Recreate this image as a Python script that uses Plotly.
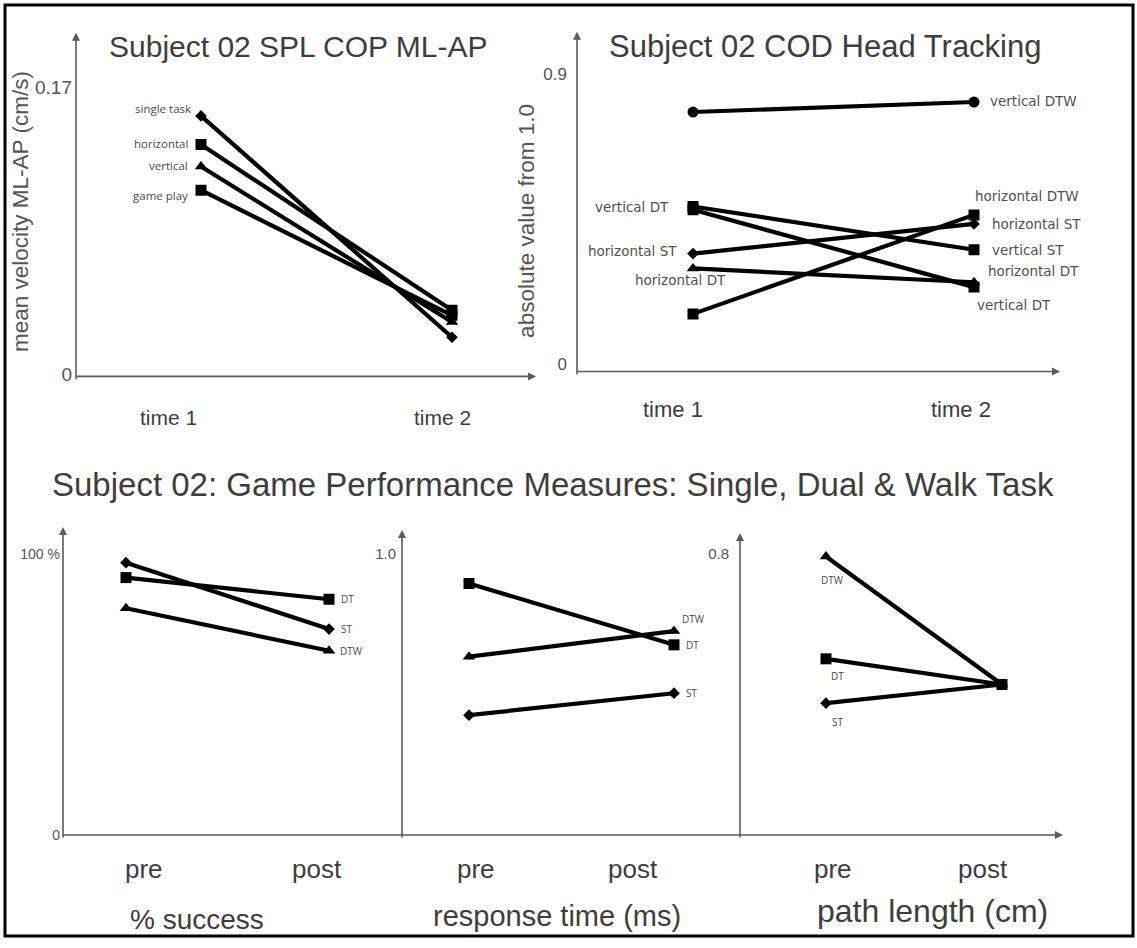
import plotly.graph_objects as go

W, H = 1137, 948

# ---------------- data ----------------
time_labels = ["time 1", "time 2"]
spl_series = ["single task", "horizontal", "vertical", "game play"]
spl_t1 = [0.153, 0.136, 0.123, 0.109]
spl_t2 = [0.022, 0.038, 0.031, 0.035]
spl_symbols = ["diamond", "square", "triangle-up", "square"]
spl_ticks = [0, 0.17]
spl_ticktext = ["0", "0.17"]

cod_series = ["vertical DTW", "vertical DT", "vertical ST", "horizontal ST", "horizontal DT", "horizontal DTW"]
cod_t1 = [0.783, 0.480, 0.490, 0.344, 0.298, 0.157]
cod_t2 = [0.814, 0.240, 0.356, 0.436, 0.255, 0.464]
cod_symbols = ["circle", "square", "square", "diamond", "triangle-up", "square"]
cod_t1_labelled = ["vertical DT", "horizontal ST", "horizontal DT"]
cod_ticks = [0, 0.9]
cod_ticktext = ["0", "0.9"]

prepost_labels = ["pre", "post"]
game_series = ["ST", "DT", "DTW"]
game_symbols = ["diamond", "square", "triangle-up"]
success_pre = [96.8, 91.5, 80.6]
success_post = [73.2, 83.8, 65.5]
response_pre = [0.426, 0.894, 0.634]
response_post = [0.504, 0.676, 0.725]
path_pre = [0.375, 0.501, 0.792]
path_post = [0.428, 0.428, 0.428]
game_measures = ["% success", "response time (ms)", "path length (cm)"]
success_ticks, success_ticktext = [0, 100], ["0", "100 %"]
response_ticks, response_ticktext = [1.0], ["1.0"]
path_ticks, path_ticktext = [0.8], ["0.8"]

titles = ["Subject 02 SPL COP ML-AP", "Subject 02 COD Head Tracking",
          "Subject 02: Game Performance Measures: Single, Dual & Walk Task"]
ytitles = ["mean velocity ML-AP (cm/s)", "absolute value from 1.0"]

# ---------------- layout helpers ----------------
def px(x):
    return x / W


def py(y):
    return 1 - y / H


def lin(p, p1, v1, p2, v2):
    return v1 + (p - p1) * (v2 - v1) / (p2 - p1)


TXT = "#3d3d3d"
AX = "#5a5a5a"
MAIN_FONT = "Liberation Sans, Arial, sans-serif"
SMALL_FONT = "Open Sans, DejaVu Sans, sans-serif"
WIDE_FONT = "DejaVu Sans, sans-serif"
msize = {"diamond": 9, "square": 11, "triangle-up": 11, "circle": 11}

fig = go.Figure()
annotations = []
layout = {}

# panel geometry: (x domain px, x calib, y domain px, y calib)
panels = [
    dict(xd=(76, 536), xc=(201, 0, 452, 1), yd=(380, 33), yc=(378, 0, 88, 0.17)),
    dict(xd=(577, 1060), xc=(693, 0, 974, 1), yd=(375, 32), yc=(368, 0, 75, 0.9)),
    dict(xd=(63, 402), xc=(126, 0, 329, 1), yd=(843, 532), yc=(843, 0, 559, 100)),
    dict(xd=(402, 740), xc=(469, 0, 674, 1), yd=(843, 535), yc=(843, 0, 559, 1.0)),
    dict(xd=(740, 1063), xc=(826, 0, 1002, 1), yd=(843, 538), yc=(843, 0, 559, 0.8)),
]
tick_sets = [(spl_ticks, spl_ticktext, 19, 3), (cod_ticks, cod_ticktext, 17, 9),
             (success_ticks, success_ticktext, 14, 2), (response_ticks, response_ticktext, 15, 5),
             (path_ticks, path_ticktext, 15, 10)]

for i, p in enumerate(panels):
    n = "" if i == 0 else str(i + 1)
    x0, x1 = p["xd"]
    yb, yt = p["yd"]
    xr = [lin(x0, *p["xc"]), lin(x1, *p["xc"])]
    yr = [lin(yb, *p["yc"]), lin(yt, *p["yc"])]
    tv, tt, tfs, stand = tick_sets[i]
    layout["xaxis" + n] = dict(domain=[px(x0), px(x1)], range=xr, anchor="y" + n,
                               showgrid=False, zeroline=False, showline=False,
                               showticklabels=False, ticks="", fixedrange=True)
    layout["yaxis" + n] = dict(domain=[py(yb), py(yt)], range=yr, anchor="x" + n,
                               showgrid=False, zeroline=False, showline=False,
                               ticks="", tickvals=tv, ticktext=tt, ticklabelstandoff=stand,
                               tickfont=dict(family=MAIN_FONT, size=tfs, color="#555555"),
                               fixedrange=True)


def arrow(hx, hy, tx, ty):
    annotations.append(dict(xref="paper", yref="paper", x=px(hx), y=py(hy),
                            ax=tx - hx, ay=ty - hy, axref="pixel", ayref="pixel",
                            showarrow=True, arrowhead=2, arrowsize=1, arrowwidth=1.6,
                            arrowcolor=AX, text=""))


# axes lines with arrowheads
arrow(76, 33, 76, 381)
arrow(536, 380, 75, 380)
arrow(577, 32, 577, 376)
arrow(1060, 375, 576, 375)
arrow(63, 532, 63, 844)
arrow(402, 535, 402, 844)
arrow(740, 538, 740, 844)
arrow(1063, 843, 62, 843)


def add_pair(xa, ya, v0, v1, sym):
    fig.add_trace(go.Scatter(x=[0, 1], y=[v0, v1], xaxis=xa, yaxis=ya, mode="lines+markers",
                             line=dict(color="black", width=4.2),
                             marker=dict(symbol=sym, size=msize[sym], color="black"),
                             showlegend=False, hoverinfo="skip"))


def label(xa, ya, x, y, text, anchor, dx, dy, size, font=SMALL_FONT, color="#4a4a4a"):
    annotations.append(dict(xref=xa, yref=ya, x=x, y=y, text=text, showarrow=False,
                            xanchor=anchor, yanchor="middle", xshift=dx, yshift=dy,
                            font=dict(family=font, size=size, color=color)))


# ---- panel 1: SPL COP ----
spl_label_shift = {"single task": (-8, 7), "horizontal": (-11, 1), "vertical": (-11, 1), "game play": (-11, -5)}
for s, a, b, sym in zip(spl_series, spl_t1, spl_t2, spl_symbols):
    add_pair("x", "y", a, b, sym)
    dx, dy = spl_label_shift[s]
    label("x", "y", 0, a, s, "right", dx, dy, 11.5)

# ---- panel 2: COD head tracking ----
cod_t1_shift = {"vertical DT": ("right", -22, 3), "horizontal ST": ("right", -14, 3),
                "horizontal DT": ("center", -13, -12)}
cod_t2_shift = {"vertical DTW": (14, 1), "vertical DT": (1, -18), "vertical ST": (16, 0),
                "horizontal ST": (16, 0), "horizontal DT": (12, 11), "horizontal DTW": (-1, 19)}
for s, a, b, sym in zip(cod_series, cod_t1, cod_t2, cod_symbols):
    add_pair("x2", "y2", a, b, sym)
    dx, dy = cod_t2_shift[s]
    label("x2", "y2", 1, b, s, "left", dx, dy, 13.5, WIDE_FONT, "#505050")
    if s in cod_t1_labelled:
        anc, dx, dy = cod_t1_shift[s]
        label("x2", "y2", 0, a, s, anc, dx, dy, 13.5, WIDE_FONT, "#505050")

# ---- bottom panels ----
game_sets = [(success_pre, success_post, "x3", "y3"),
             (response_pre, response_post, "x4", "y4"),
             (path_pre, path_post, "x5", "y5")]
post_shift = [{"ST": (10, 0), "DT": (10, 0), "DTW": (9, 0)},
              {"ST": (10, 0), "DT": (10, 0), "DTW": (6, 12)}]
pre_shift = {"ST": (11, -19), "DT": (11, -17), "DTW": (6, -23)}
for k, (pre, post, xa, ya) in enumerate(game_sets):
    for s, a, b, sym in zip(game_series, pre, post, game_symbols):
        add_pair(xa, ya, a, b, sym)
        if k < 2:
            dx, dy = post_shift[k][s]
            label(xa, ya, 1, b, s, "left", dx, dy, 10)
        else:
            dx, dy = pre_shift[s]
            label(xa, ya, 0, a, s, "center", dx, dy, 10)


def ptext(x, y, text, size, angle=0, color=TXT):
    annotations.append(dict(xref="paper", yref="paper", x=px(x), y=py(y), text=text,
                            showarrow=False, xanchor="center", yanchor="middle",
                            textangle=angle, font=dict(family=MAIN_FONT, size=size, color=color)))


# titles
ptext(298, 47, titles[0], 30)
ptext(825, 47, titles[1], 31)
ptext(553, 489, titles[2], 33)
ptext(21, 214, ytitles[0], 22.5, -90, "#555555")
ptext(527, 223, ytitles[1], 22.5, -90, "#555555")

# category labels
for lab, x in zip(time_labels, [168, 442]):
    ptext(x, 421, lab, 21)
for lab, x in zip(time_labels, [673, 961]):
    ptext(x, 413, lab, 22)
for xs in ([144, 317], [476, 633], [833, 983]):
    for lab, x in zip(prepost_labels, xs):
        ptext(x, 877, lab, 26)
for lab, x, y, fs in zip(game_measures, [197, 557, 932], [928, 925, 920], [28, 29, 32]):
    ptext(x, y, lab, fs)

shapes = [dict(type="rect", xref="paper", yref="paper", x0=px(5), x1=px(1133), y0=py(945), y1=py(5),
               line=dict(color="black", width=3))]

fig.update_layout(width=W, height=H, margin=dict(l=0, r=0, t=0, b=0),
                  paper_bgcolor="white", plot_bgcolor="rgba(0,0,0,0)",
                  annotations=annotations, shapes=shapes, showlegend=False, **layout)
fig.write_html("out.html", config={"displayModeBar": False})
